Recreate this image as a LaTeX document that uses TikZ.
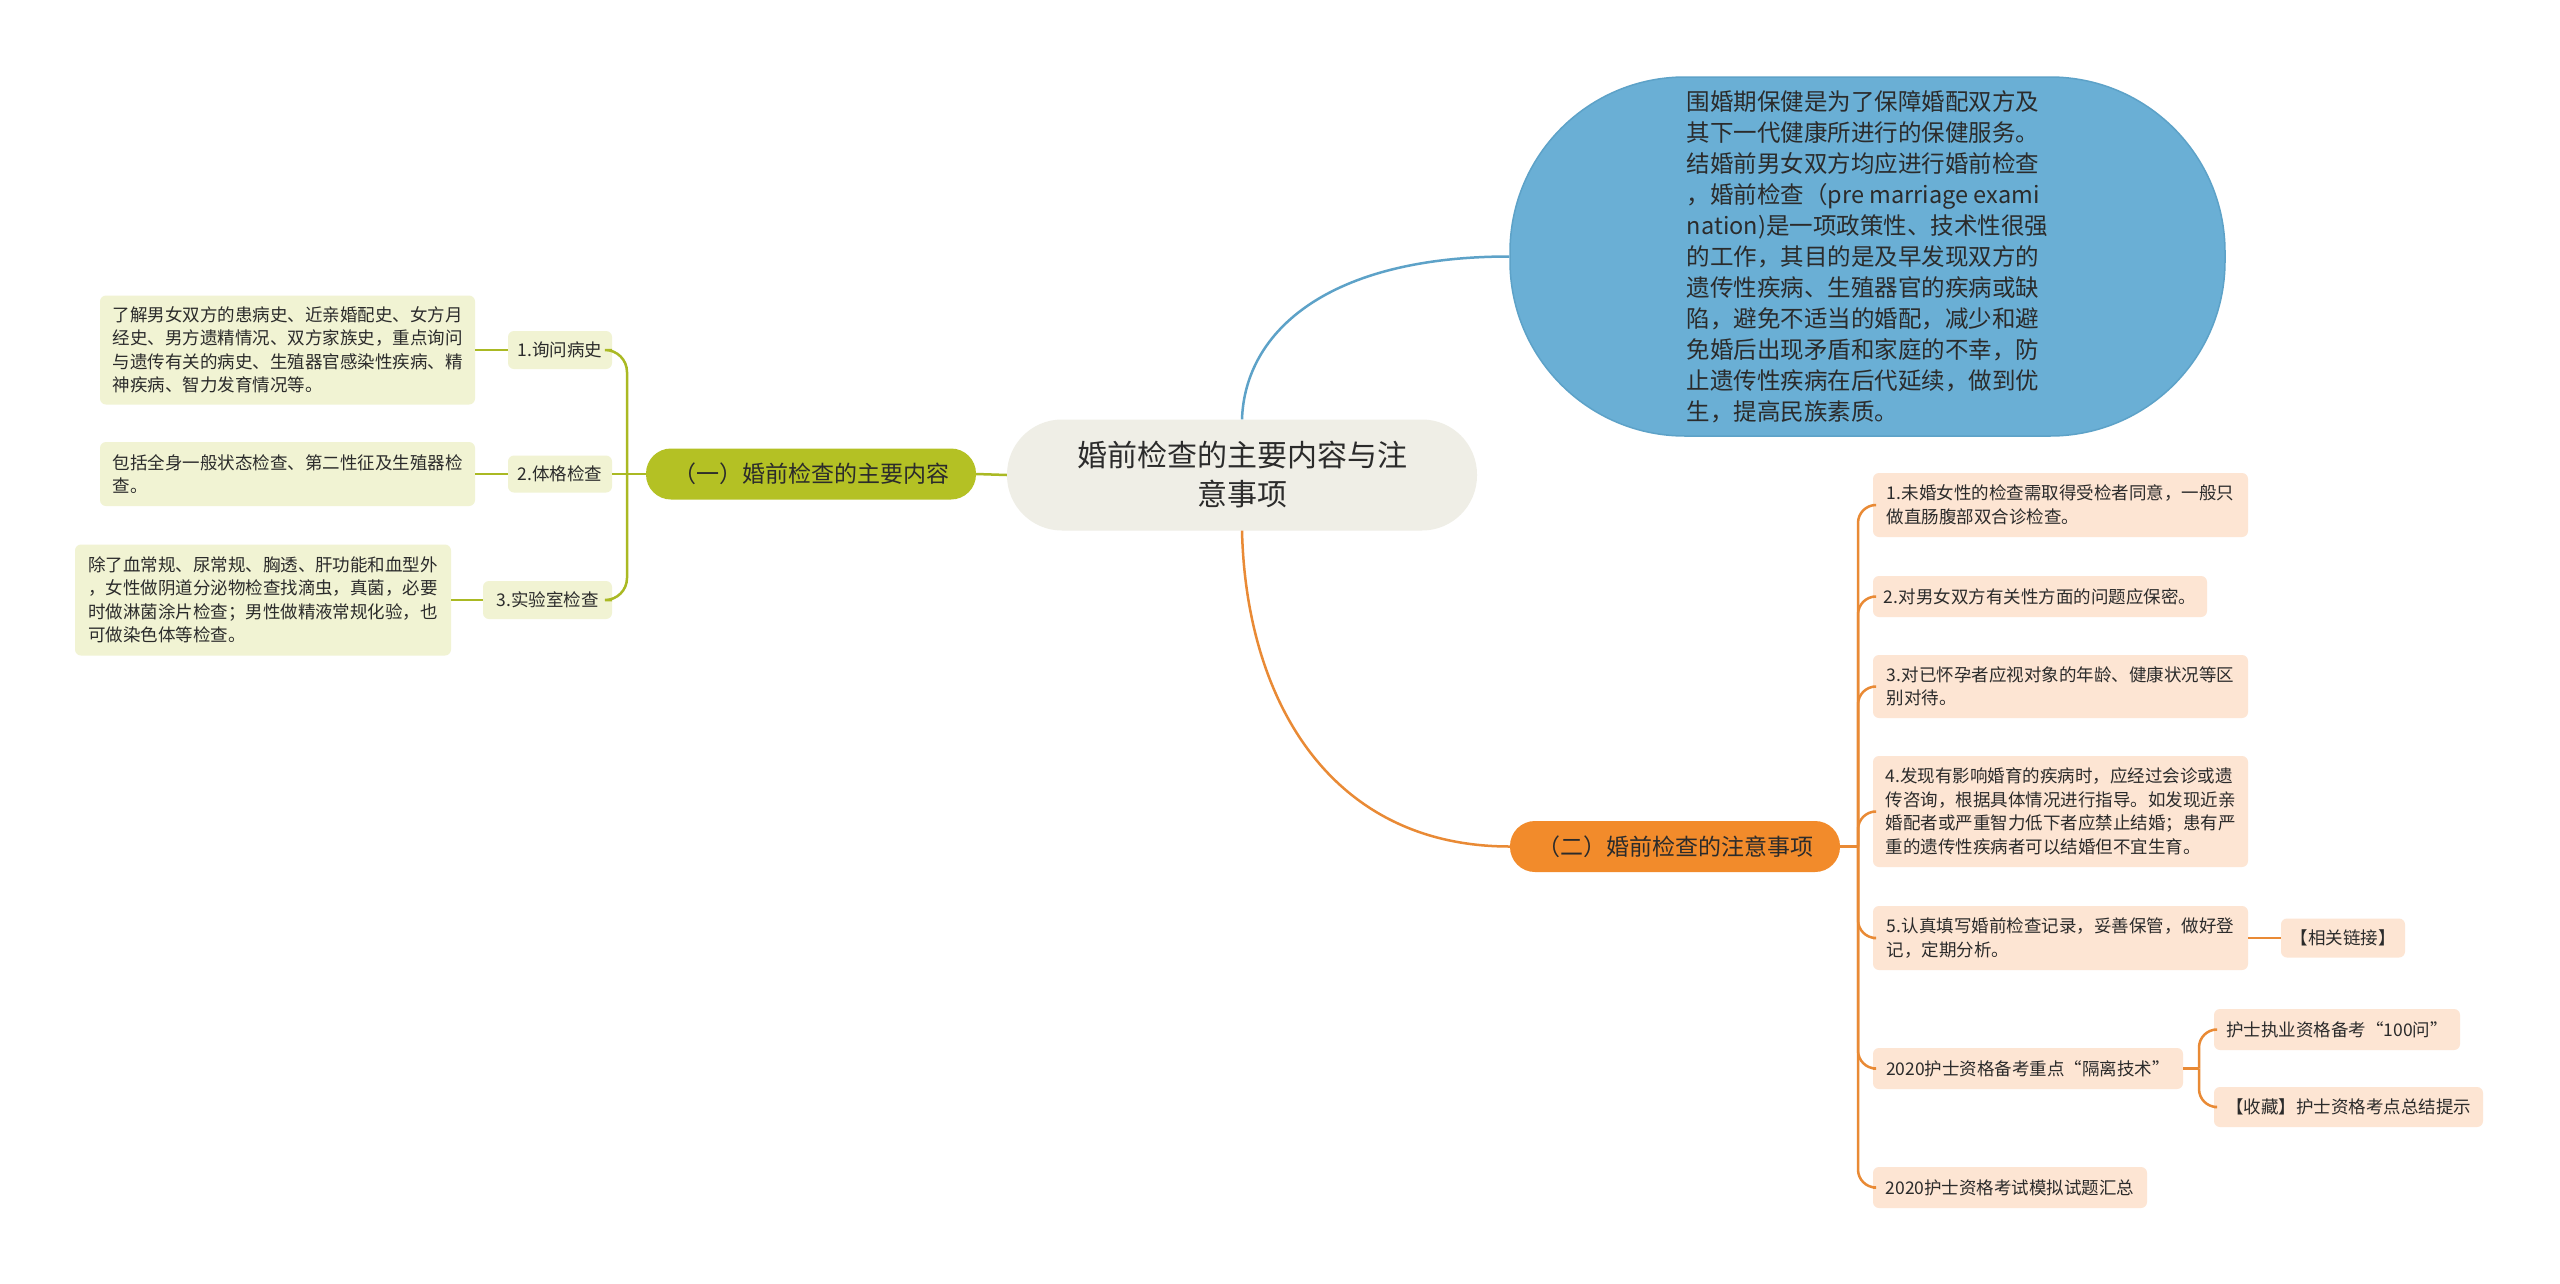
\documentclass[tikz,border=0pt]{standalone}
\usepackage{fontspec}
\setmainfont{Noto Sans CJK SC}
\definecolor{colC}{HTML}{EFEEE6}
\definecolor{colL}{HTML}{B4C124}
\definecolor{colLline}{HTML}{AAB923}
\definecolor{colLsub}{HTML}{F1F3D3}
\definecolor{colB}{HTML}{6AAFD5}
\definecolor{colBline}{HTML}{5DA2C8}
\definecolor{colO}{HTML}{F28B2B}
\definecolor{colOline}{HTML}{E98A35}
\definecolor{colOsub}{HTML}{FDE5D3}
\definecolor{txt}{HTML}{2B2B2B}
\newcommand\fsmall{\fontsize{17.5}{23.5}\selectfont}
\newcommand\fbranch{\fontsize{23}{28}\selectfont}
\newcommand\fcentral{\fontsize{30}{39}\selectfont}
\newcommand\fblue{\fontsize{23.5}{31}\selectfont}
\tikzset{
  sub/.style={rounded corners=6pt, inner sep=0pt, align=left, text=txt, font=\fsmall},
  lsub/.style={sub, fill=colLsub},
  osub/.style={sub, fill=colOsub},
  branchbox/.style={rounded corners=25pt, inner sep=0pt, align=center, text=txt, font=\fbranch, minimum width=330pt, minimum height=51pt},
  lline/.style={draw=colLline, line width=2.5pt},
  oline/.style={draw=colOline, line width=2.5pt},
  lcurve/.style={lline, rounded corners=22pt},
  ocurve/.style={oline, rounded corners=18pt},
}
\begin{document}
\begin{tikzpicture}[x=1pt,y=-1pt]
\useasboundingbox (0,0) rectangle (2560,1283);
\fill[white] (0,0) rectangle (2560,1283);

% central
\node[fill=colC, rounded corners=55pt, inner sep=0pt, minimum width=470pt, minimum height=111pt, align=center, text=txt, font=\fcentral] (C) at (1242,475) {婚前检查的主要内容与注\\意事项};

% blue
\node[fill=colB, draw=colBline, line width=1.5pt, rounded corners=175pt, inner sep=0pt, minimum width=715pt, minimum height=359pt, align=left, text=txt, font=\fblue] (B) at (1867.5,256.5) {围婚期保健是为了保障婚配双方及\\其下一代健康所进行的保健服务。\\结婚前男女双方均应进行婚前检查\\，婚前检查（pre marriage exami\\nation)是一项政策性、技术性很强\\的工作，其目的是及早发现双方的\\遗传性疾病、生殖器官的疾病或缺\\陷，避免不适当的婚配，减少和避\\免婚后出现矛盾和家庭的不幸，防\\止遗传性疾病在后代延续，做到优\\生，提高民族素质。};

% left branch
\node[branchbox, fill=colL] (L) at (811,474) {（一）婚前检查的主要内容};
\node[lsub, minimum width=104pt, minimum height=38pt] (L1) at (560,350) {1.询问病史};
\node[lsub, minimum width=104pt, minimum height=37pt] (L2) at (560,474) {2.体格检查};
\node[lsub, minimum width=129pt, minimum height=38pt] (L3) at (547.5,600) {3.实验室检查};
\node[lsub, minimum width=375pt, minimum height=109pt] (D1) at (287.5,350) {了解男女双方的患病史、近亲婚配史、女方月\\经史、男方遗精情况、双方家族史，重点询问\\与遗传有关的病史、生殖器官感染性疾病、精\\神疾病、智力发育情况等。};
\node[lsub, minimum width=375pt, minimum height=64pt] (D2) at (287.5,474) {包括全身一般状态检查、第二性征及生殖器检\\查。};
\node[lsub, minimum width=376pt, minimum height=111pt] (D3) at (263,600) {除了血常规、尿常规、胸透、肝功能和血型外\\，女性做阴道分泌物检查找滴虫，真菌，必要\\时做淋菌涂片检查；男性做精液常规化验，也\\可做染色体等检查。};

% orange branch
\node[branchbox, fill=colO] (O) at (1675,846.5) {（二）婚前检查的注意事项};
\node[osub, minimum width=375pt, minimum height=64pt] (C1) at (2060.5,505) {1.未婚女性的检查需取得受检者同意，一般只\\做直肠腹部双合诊检查。};
\node[osub, minimum width=334pt, minimum height=41pt] (C2) at (2040,596.5) {2.对男女双方有关性方面的问题应保密。};
\node[osub, minimum width=375pt, minimum height=63pt] (C3) at (2060.5,686.5) {3.对已怀孕者应视对象的年龄、健康状况等区\\别对待。};
\node[osub, minimum width=375pt, minimum height=111pt] (C4) at (2060.5,811.5) {4.发现有影响婚育的疾病时，应经过会诊或遗\\传咨询，根据具体情况进行指导。如发现近亲\\婚配者或严重智力低下者应禁止结婚；患有严\\重的遗传性疾病者可以结婚但不宜生育。};
\node[osub, minimum width=375pt, minimum height=64pt] (C5) at (2060.5,938) {5.认真填写婚前检查记录，妥善保管，做好登\\记，定期分析。};
\node[osub, minimum width=124pt, minimum height=39pt] (C5a) at (2343,938) {【相关链接】};
\node[osub, minimum width=310pt, minimum height=41pt] (C6) at (2028,1068.5) {2020护士资格备考重点“隔离技术”};
\node[osub, minimum width=246pt, minimum height=41pt] (C6a) at (2337,1029.5) {护士执业资格备考“100问”};
\node[osub, minimum width=269pt, minimum height=40pt] (C6b) at (2348.5,1107) {【收藏】护士资格考点总结提示};
\node[osub, minimum width=274pt, minimum height=41pt] (C7) at (2010,1187.5) {2020护士资格考试模拟试题汇总};

% connectors
\draw[draw=colBline, line width=2.5pt] (C.north) .. controls (1245,330) and (1330,256.5) .. (B.west);
\draw[draw=colOline, line width=2.5pt] (C.south) .. controls (1246,700) and (1330,846.5) .. (O.west);
\draw[lline] (C.west) -- (L.east);

\coordinate (ls) at (627,474);
\draw[lline] (L.west) -- (L2.east);
\draw[lcurve] (ls) |- (L1.east);
\draw[lcurve] (ls) |- (L3.east);
\draw[lline] (D1.east) -- (L1.west);
\draw[lline] (D2.east) -- (L2.west);
\draw[lline] (D3.east) -- (L3.west);

\coordinate (rs) at (1858,846.5);
\draw[oline] (O.east) -- (rs);
\foreach \n in {C1,C2,C3,C4,C5,C6,C7}{
  \draw[ocurve] (rs) |- (\n.west);
}
\draw[oline] (C5.east) -- (C5a.west);
\coordinate (rs2) at (2199,1068.5);
\draw[oline] (C6.east) -- (rs2);
\draw[ocurve] (rs2) |- (C6a.west);
\draw[ocurve] (rs2) |- (C6b.west);
\end{tikzpicture}
\end{document}
